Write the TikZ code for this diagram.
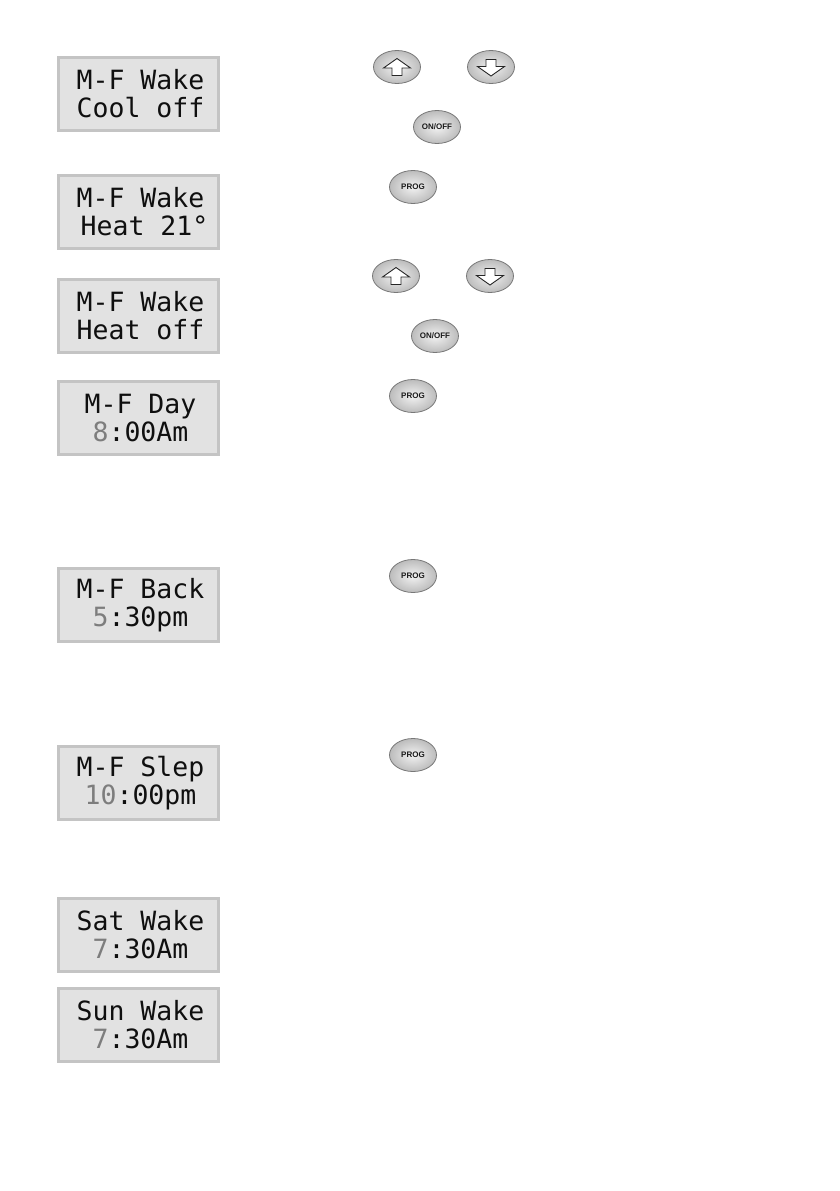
\documentclass[tikz,border=0pt]{standalone}
\usepackage{fontspec}
\usepackage{tikz}
\usetikzlibrary{shapes.geometric, positioning}
\newfontfamily\lcdfont{DejaVu Sans Mono}
\newfontfamily\keyfont{Liberation Sans}
\definecolor{lcdfill}{RGB}{226,226,226}
\definecolor{lcdborder}{RGB}{196,196,196}
\definecolor{lcdtext}{RGB}{15,15,15}
\definecolor{lcddim}{RGB}{125,125,125}
\definecolor{keyedge}{RGB}{120,120,120}
\definecolor{keyrim}{RGB}{188,188,188}
\definecolor{keylight}{RGB}{242,242,242}
\newcommand{\dimd}[1]{\textcolor{lcddim}{#1}}
\newcommand{\lcdlines}[2]{\hspace*{4pt}#1\\\hspace*{4pt}#2}
\tikzset{
    lcdbox/.style={rectangle, minimum width=160pt, minimum height=73pt, inner sep=0pt, fill=lcdfill, draw=lcdborder, line width=3pt, align=center, text=lcdtext, font=\lcdfont\fontsize{26.5}{28}\selectfont},
    keybtn/.style={ellipse, minimum width=47pt, minimum height=33pt, inner sep=0pt, inner color=keylight, outer color=keyrim, draw=keyedge, line width=0.8pt, text=black!90, font=\keyfont\bfseries\fontsize{8}{8}\selectfont},
    keyarrow/.style={draw=black!85, fill=white, line width=0.9pt, line join=miter},
}

\begin{document}
\begin{tikzpicture}[x=1pt, y=-1pt]
\useasboundingbox (0,0) rectangle (839,1191);

% LCD screens down the left side
\node[lcdbox] (cool-off) at (138.5,94) {\lcdlines{M-F Wake}{Cool off}};
\node[lcdbox, below=42pt of cool-off] (heat-set) {\lcdlines{M-F Wake}{\hspace*{8pt}Heat 21°}};
\node[lcdbox, below=28pt of heat-set] (heat-off) {\lcdlines{M-F Wake}{Heat off}};
\node[lcdbox, below=26pt of heat-off] (day) {\lcdlines{M-F Day}{\dimd{8}:00Am}};
\node[lcdbox, below=111pt of day] (back) {\lcdlines{M-F Back}{\dimd{5}:30pm}};
\node[lcdbox, below=102pt of back] (sleep) {\lcdlines{M-F Slep}{\dimd{10}:00pm}};
\node[lcdbox, below=76pt of sleep] (sat) {\lcdlines{Sat Wake}{\dimd{7}:30Am}};
\node[lcdbox, below=14pt of sat] (sun) {\lcdlines{Sun Wake}{\dimd{7}:30Am}};

% First group of keys
\node[keybtn] (up-a) at (397,67) {};
\node[keybtn] (down-a) at (491,67) {};
\node[keybtn] (onoff-a) at (437,127) {ON/OFF};
\node[keybtn] (prog-a) at (413,187) {PROG};

% Second group of keys
\node[keybtn] (up-b) at (396,276) {};
\node[keybtn] (down-b) at (490,276) {};
\node[keybtn] (onoff-b) at (435,336) {ON/OFF};
\node[keybtn] (prog-b) at (413,396) {PROG};

% Remaining PROG keys
\node[keybtn] (prog-c) at (413,576) {PROG};
\node[keybtn] (prog-d) at (413,755) {PROG};

% Arrows on the keys
\foreach \k in {up-a, up-b}
    \draw[keyarrow] (\k.center) ++(0,-8.5) -- ++(13.5,9.5) -- ++(-8.5,0) -- ++(0,7.5) -- ++(-10,0) -- ++(0,-7.5) -- ++(-8.5,0) -- cycle;
\foreach \k in {down-a, down-b}
    \draw[keyarrow] (\k.center) ++(0,9) -- ++(13.5,-9.5) -- ++(-8.5,0) -- ++(0,-7) -- ++(-10,0) -- ++(0,7) -- ++(-8.5,0) -- cycle;

\end{tikzpicture}
\end{document}
